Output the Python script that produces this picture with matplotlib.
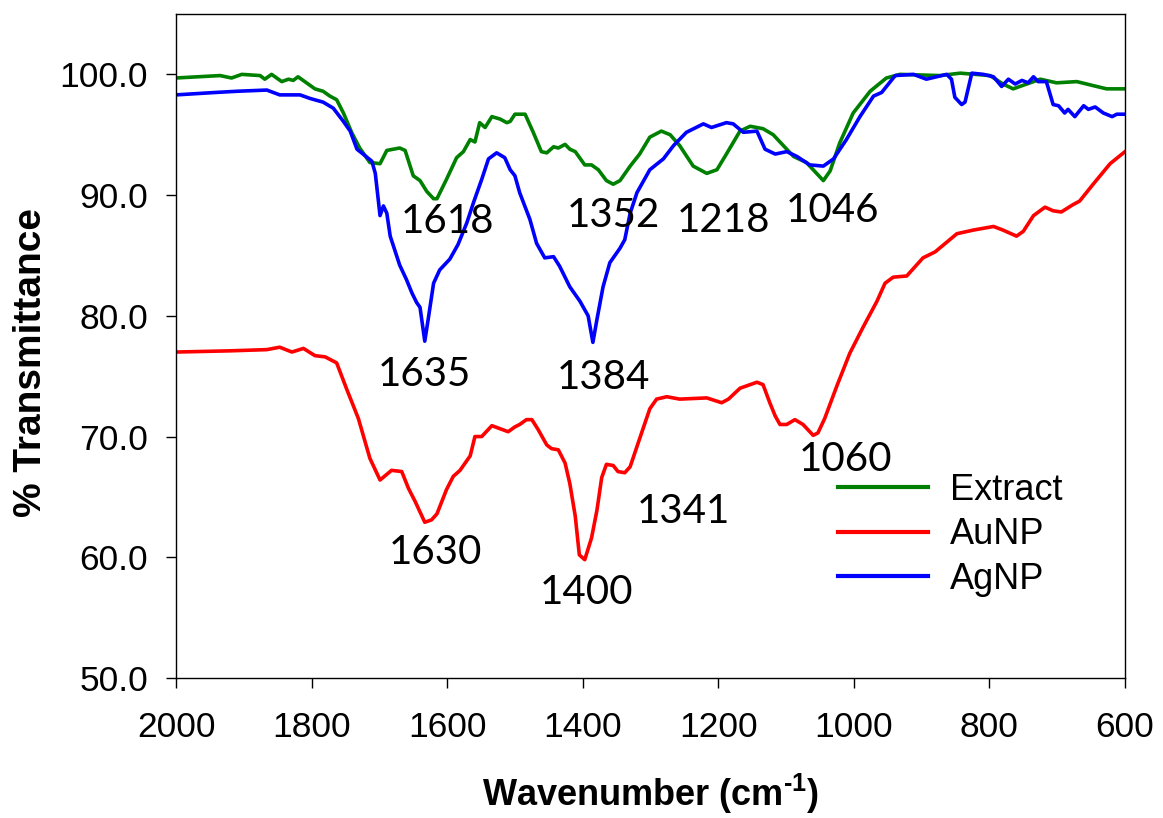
import matplotlib
matplotlib.use("Agg")
import matplotlib.pyplot as plt

plt.rcParams['font.family'] = ['Liberation Sans', 'DejaVu Sans']
plt.rcParams['mathtext.fontset'] = 'custom'
plt.rcParams['mathtext.rm'] = 'Liberation Sans:bold'
plt.rcParams['mathtext.bf'] = 'Liberation Sans:bold'
plt.rcParams['mathtext.default'] = 'rm'

# ---- data ----
extract_wn = [2000, 1935, 1918, 1903, 1876, 1869, 1859, 1844, 1834, 1827, 1820, 1810, 1795, 1783,
              1773, 1763, 1753, 1741, 1729, 1714, 1699, 1689, 1670, 1662, 1650, 1640, 1630, 1620,
              1615, 1601, 1586, 1576, 1566, 1559, 1552, 1544, 1534, 1522, 1512, 1507, 1500, 1485,
              1473, 1461, 1453, 1443, 1436, 1426, 1419, 1411, 1397, 1387, 1377, 1365, 1355, 1345,
              1330, 1316, 1301, 1284, 1271, 1257, 1237, 1217, 1202, 1188, 1168, 1153, 1134, 1119,
              1104, 1089, 1070, 1055, 1045, 1035, 1021, 1001, 976, 952, 932, 873, 843, 799, 780,
              765, 750, 725, 701, 671, 642, 627, 600]
extract_t = [99.7, 99.9, 99.7, 100.0, 99.9, 99.6, 100.0, 99.4, 99.6, 99.5, 99.8, 99.4, 98.8, 98.6,
             98.2, 97.9, 96.8, 95.2, 93.9, 92.7, 92.6, 93.7, 93.9, 93.7, 91.6, 91.2, 90.3, 89.7,
             89.7, 91.3, 93.1, 93.6, 94.6, 94.4, 96.0, 95.6, 96.5, 96.3, 96.0, 96.1, 96.7, 96.7,
             95.2, 93.6, 93.5, 94.0, 93.9, 94.2, 93.8, 93.6, 92.5, 92.5, 92.1, 91.2, 90.9, 91.2,
             92.4, 93.4, 94.8, 95.3, 95.0, 94.1, 92.4, 91.8, 92.1, 93.4, 95.3, 95.7, 95.5, 95.0,
             94.1, 93.2, 92.7, 91.8, 91.2, 92.0, 94.3, 96.8, 98.6, 99.7, 100.0, 99.9, 100.1, 99.9,
             99.2, 98.8, 99.1, 99.6, 99.3, 99.4, 99.0, 98.8, 98.8]

aunp_wn = [2000, 1920, 1866, 1847, 1829, 1812, 1795, 1780, 1763, 1748, 1731, 1714, 1699, 1682,
           1667, 1657, 1647, 1633, 1623, 1615, 1601, 1591, 1581, 1566, 1559, 1549, 1534, 1510,
           1500, 1493, 1483, 1475, 1466, 1453, 1446, 1436, 1426, 1419, 1411, 1405, 1397, 1387,
           1379, 1372, 1365, 1355, 1348, 1338, 1330, 1318, 1301, 1291, 1276, 1257, 1217, 1195,
           1185, 1168, 1143, 1134, 1124, 1116, 1109, 1099, 1087, 1075, 1060, 1053, 1043, 1025,
           1006, 986, 966, 954, 942, 922, 898, 880, 848, 824, 794, 780, 760, 750, 735, 718, 706,
           694, 677, 667, 647, 622, 600]
aunp_t = [77.0, 77.1, 77.2, 77.4, 77.0, 77.3, 76.7, 76.6, 76.1, 73.9, 71.5, 68.2, 66.4, 67.2,
          67.1, 65.7, 64.6, 62.9, 63.1, 63.6, 65.6, 66.7, 67.2, 68.4, 70.0, 70.0, 70.9, 70.4,
          70.8, 71.0, 71.4, 71.4, 70.6, 69.3, 69.0, 68.9, 67.8, 66.1, 63.4, 60.2, 59.8, 61.6,
          63.9, 66.6, 67.7, 67.6, 67.1, 67.0, 67.5, 69.5, 72.3, 73.1, 73.3, 73.1, 73.2, 72.8,
          73.1, 74.0, 74.5, 74.3, 72.8, 71.7, 71.0, 71.0, 71.4, 71.0, 70.1, 70.3, 71.5, 74.2,
          76.9, 79.1, 81.2, 82.7, 83.2, 83.3, 84.8, 85.3, 86.8, 87.1, 87.4, 87.1, 86.6, 87.0,
          88.3, 89.0, 88.7, 88.6, 89.2, 89.5, 90.9, 92.6, 93.6]

agnp_wn = [2000, 1942, 1910, 1866, 1847, 1817, 1802, 1783, 1768, 1753, 1743, 1733, 1724, 1711,
           1706, 1699, 1694, 1689, 1684, 1670, 1660, 1652, 1645, 1640, 1633, 1628, 1620, 1611,
           1596, 1584, 1571, 1561, 1549, 1539, 1527, 1515, 1507, 1500, 1493, 1478, 1468, 1456,
           1443, 1434, 1419, 1404, 1392, 1385, 1379, 1370, 1360, 1345, 1338, 1330, 1320, 1301,
           1281, 1266, 1247, 1222, 1210, 1188, 1178, 1163, 1143, 1131, 1116, 1099, 1084, 1065,
           1045, 1030, 1011, 991, 971, 959, 939, 912, 893, 863, 856, 851, 841, 836, 826, 809,
           794, 782, 772, 762, 752, 743, 735, 728, 716, 706, 698, 689, 684, 674, 661, 654, 644,
           632, 619, 612, 600]
agnp_t = [98.3, 98.5, 98.6, 98.7, 98.3, 98.3, 98.0, 97.7, 97.2, 96.1, 95.3, 93.8, 93.4, 92.8,
          91.8, 88.3, 89.1, 88.5, 86.6, 84.2, 83.0, 81.9, 81.1, 80.7, 77.9, 79.7, 82.7, 83.8,
          84.7, 85.9, 87.7, 89.4, 91.3, 93.0, 93.5, 93.1, 92.1, 91.6, 90.2, 88.0, 86.0, 84.8,
          84.9, 84.1, 82.4, 81.2, 80.0, 77.8, 79.7, 82.4, 84.4, 85.6, 86.3, 88.5, 90.2, 92.1,
          93.0, 94.1, 95.2, 95.9, 95.6, 96.0, 95.9, 95.2, 95.3, 93.8, 93.4, 93.6, 93.2, 92.5,
          92.4, 93.0, 94.6, 96.5, 98.2, 98.5, 99.9, 100.0, 99.6, 100.0, 99.6, 98.1, 97.5, 97.7,
          100.1, 100.0, 99.8, 99.0, 99.6, 99.2, 99.5, 99.3, 99.8, 99.4, 99.4, 97.5, 97.4, 96.8,
          97.1, 96.5, 97.4, 97.1, 97.3, 96.8, 96.5, 96.7, 96.7]

series_labels = ["Extract", "AuNP", "AgNP"]

peak_labels = ["1618", "1352", "1218", "1046", "1635", "1384", "1630", "1400", "1341", "1060"]
peak_label_x = [1599, 1354, 1193, 1031, 1633, 1370, 1618, 1394, 1252, 1012]
peak_label_y = [87.8, 88.3, 87.9, 88.7, 75.1, 74.9, 60.4, 57.1, 63.8, 68.1]

x_ticks = [2000, 1800, 1600, 1400, 1200, 1000, 800, 600]
y_ticks = [50, 60, 70, 80, 90, 100]

# ---- figure ----
fig = plt.figure(figsize=(11.63, 8.18), dpi=100)
ax = fig.add_axes([176 / 1163, 1 - 678 / 818, 949 / 1163, 664 / 818])

lw = 2.6
ax.plot(extract_wn, extract_t, color="#008000", lw=lw, label=series_labels[0])
ax.plot(aunp_wn, aunp_t, color="#FF0000", lw=lw, label=series_labels[1])
ax.plot(agnp_wn, agnp_t, color="#0000FF", lw=lw, label=series_labels[2])

ax.set_xlim(2000, 600)
ax.set_ylim(50, 105)
ax.set_xticks(x_ticks)
ax.set_xticklabels([str(v) for v in x_ticks])
ax.set_yticks(y_ticks)
ax.set_yticklabels([f"{v:.1f}" for v in y_ticks])
ax.tick_params(axis='both', direction='out', length=7, width=1.0, labelsize=25.5)
ax.tick_params(axis='x', pad=17)
ax.tick_params(axis='y', pad=13)
for s in ax.spines.values():
    s.set_linewidth(1.0)
    s.set_color("black")

for lab, x, y in zip(peak_labels, peak_label_x, peak_label_y):
    ax.text(x, y, lab, ha='center', va='center', fontsize=29,
            family=['Lato', 'DejaVu Sans'], color='black')

ax.set_xlabel(r"Wavenumber (cm$^{\text{-1}}$)", fontsize=26, fontweight='bold', labelpad=20)
ax.set_ylabel("% Transmittance", fontsize=28, fontweight='bold', labelpad=18)
ax.yaxis.set_label_coords(-0.134, 0.475)

leg = ax.legend(loc='upper left', bbox_to_anchor=(0.6976, 0.309), frameon=False,
                fontsize=26, handlelength=2.5, handletextpad=0.6, labelspacing=0.26,
                borderpad=0, borderaxespad=0)
for h in leg.get_lines():
    h.set_linewidth(3)

fig.savefig("out.png", dpi=100)
